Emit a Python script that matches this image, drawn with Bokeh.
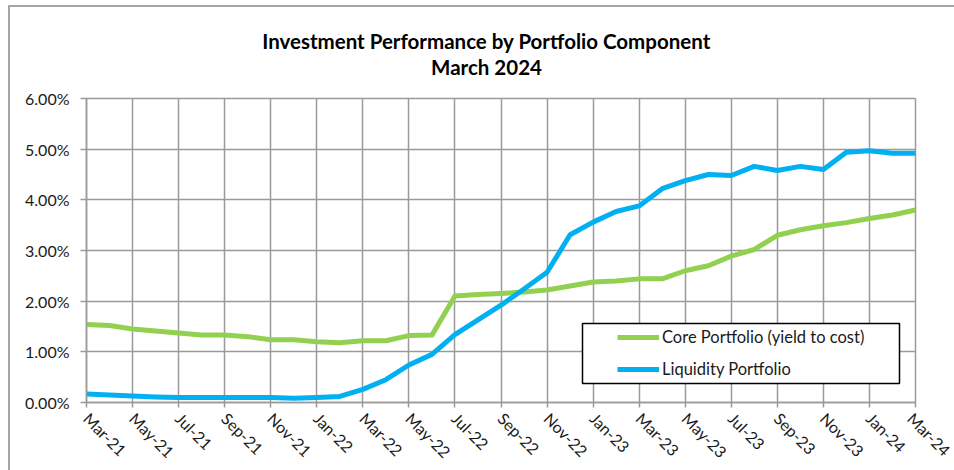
import math
from bokeh.plotting import figure
from bokeh.models import (Range1d, FixedTicker, PrintfTickFormatter, Legend, LegendItem,
                          Label, BoxAnnotation, ColumnDataSource)
from bokeh.embed import file_html
from bokeh.resources import INLINE

# ---- data ----
months = ["Mar-21", "Apr-21", "May-21", "Jun-21", "Jul-21", "Aug-21", "Sep-21", "Oct-21",
          "Nov-21", "Dec-21", "Jan-22", "Feb-22", "Mar-22", "Apr-22", "May-22", "Jun-22",
          "Jul-22", "Aug-22", "Sep-22", "Oct-22", "Nov-22", "Dec-22", "Jan-23", "Feb-23",
          "Mar-23", "Apr-23", "May-23", "Jun-23", "Jul-23", "Aug-23", "Sep-23", "Oct-23",
          "Nov-23", "Dec-23", "Jan-24", "Feb-24", "Mar-24"]
core = [1.54, 1.52, 1.45, 1.41, 1.37, 1.33, 1.33, 1.30, 1.24, 1.24, 1.20, 1.18, 1.22, 1.22,
        1.32, 1.33, 2.10, 2.13, 2.15, 2.18, 2.22, 2.30, 2.38, 2.40, 2.44, 2.44, 2.60, 2.70,
        2.89, 3.02, 3.30, 3.41, 3.49, 3.55, 3.63, 3.70, 3.80]
liquidity = [0.17, 0.15, 0.13, 0.11, 0.10, 0.10, 0.10, 0.10, 0.10, 0.085, 0.10, 0.12, 0.26,
             0.45, 0.74, 0.95, 1.34, 1.63, 1.92, 2.24, 2.57, 3.31, 3.56, 3.77, 3.88, 4.22,
             4.38, 4.50, 4.48, 4.66, 4.58, 4.66, 4.60, 4.94, 4.97, 4.92, 4.92]
y_ticks = [0, 1, 2, 3, 4, 5, 6]
title_lines = ["Investment Performance by Portfolio Component", "March 2024"]
series_names = ["Core Portfolio (yield to cost)", "Liquidity Portfolio"]

FONT = "Lato"
GRID = "#9a9a9a"
TXT = "#1a1a1a"

x = list(range(len(months)))
src = ColumnDataSource(dict(x=x, core=core, liq=liquidity))

p = figure(width=954, height=470, output_backend="svg", toolbar_location=None,
           x_range=Range1d(x[0], x[-1]), y_range=Range1d(y_ticks[0], y_ticks[-1]),
           min_border_left=86, min_border_right=39, min_border_top=98, min_border_bottom=68,
           background_fill_color="white", border_fill_alpha=0)

# outer chart border (left & top) drawn as an inset shadow on the figure element
p.styles = {"background-color": "white",
            "box-shadow": "inset 8px 5px 0 0 white, inset 10px 7px 0 0 #a6a6a6"}

p.outline_line_color = GRID
p.outline_line_width = 1.5

xt = FixedTicker(ticks=x[::2])
p.xaxis.ticker = xt
p.xgrid.ticker = xt
p.xaxis.major_label_overrides = {i: months[i] for i in x[::2]}
yt = FixedTicker(ticks=y_ticks)
p.yaxis.ticker = yt
p.ygrid.ticker = yt
p.yaxis.formatter = PrintfTickFormatter(format="%.2f%%")

for g in (p.xgrid, p.ygrid):
    g.grid_line_color = GRID
    g.grid_line_width = 1.5

for ax in (p.xaxis, p.yaxis):
    ax.axis_line_color = GRID
    ax.axis_line_width = 1.5
    ax.major_tick_line_color = GRID
    ax.major_tick_line_width = 1.5
    ax.major_tick_in = 0
    ax.minor_tick_in = 0
    ax.minor_tick_out = 0
    ax.major_label_text_font = FONT
    ax.major_label_text_font_size = "16px"
    ax.major_label_text_color = TXT

p.yaxis.major_tick_out = 6
p.yaxis.major_label_standoff = 11
p.xaxis.major_tick_out = 5
p.xaxis.major_label_standoff = 8
p.xaxis.major_label_orientation = -math.pi / 4

r1 = p.line("x", "core", source=src, line_color="#92D050", line_width=5, line_join="round")
r2 = p.line("x", "liq", source=src, line_color="#00B0F0", line_width=5, line_join="round")

# legend frame
box = BoxAnnotation(left=496, right=813, bottom=19, top=79,
                    left_units="screen", right_units="screen",
                    top_units="screen", bottom_units="screen",
                    fill_color="white", fill_alpha=1.0,
                    line_color="black", line_alpha=1.0, line_width=1.5)
p.add_layout(box)

legend = Legend(items=[LegendItem(label=series_names[0], renderers=[r1]),
                       LegendItem(label=series_names[1], renderers=[r2])],
                location=(531, 23), padding=0, spacing=12, margin=0,
                glyph_width=42, glyph_height=20, label_height=20, label_standoff=3,
                label_text_font=FONT, label_text_font_size="16.5px", label_text_color=TXT,
                border_line_alpha=0, background_fill_alpha=0)
p.add_layout(legend)

# two-line title (canvas units, in a side panel)
for txt, yy in zip(title_lines, [40, 66]):
    p.add_layout(Label(x=486, y=yy, x_units="canvas", y_units="canvas", text=txt,
                       text_align="center", text_baseline="alphabetic",
                       text_font=FONT, text_font_style="bold", text_font_size="20.5px",
                       text_color="black"), "above")

open("out.html", "w").write(file_html(p, INLINE))
